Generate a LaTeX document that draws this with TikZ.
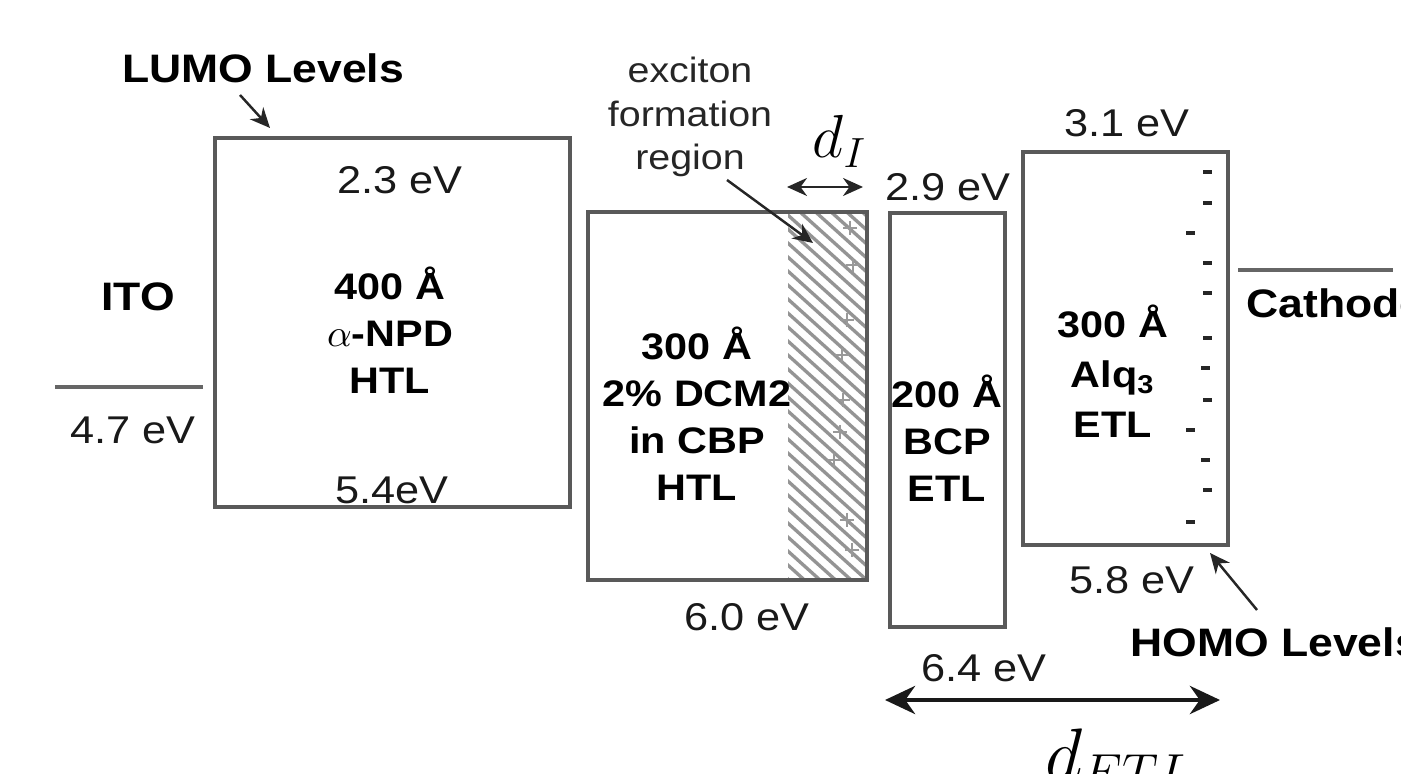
\documentclass[tikz,border=0pt]{standalone}
\usepackage{fontspec}
\setmainfont{Liberation Sans}[FakeStretch=1.12]
\usetikzlibrary{arrows.meta}

\begin{document}
\begin{tikzpicture}[x=0.01cm, y=-0.01cm, >={Stealth[length=2mm, width=1.8mm]},
  layer/.style={draw=black!65, line width=0.9pt},
  electrode/.style={black!60, line width=0.9pt},
  val/.style={font=\fontsize{11}{13}\selectfont, text=black!90},
  lbl/.style={font=\fontsize{11.3}{13}\selectfont\bfseries},
  film/.style={font=\fontsize{10.5}{13.4}\selectfont\bfseries, align=center},
  note/.style={font=\fontsize{10}{12.4}\selectfont, align=center, text=black!85},
  hatch/.style={black!42, line width=0.95pt},
  hole/.style={black!40, line width=0.6pt},
  charge/.style={fill=black!85},
  pointer/.style={->, black!85, line width=0.7pt}]

  \useasboundingbox (0,0) rectangle (1401,774);

  % electrodes
  \draw[electrode] (55,387) -- (203,387);
  \draw[electrode] (1238,270) -- (1393,270);
  \node[lbl] (ito) at (138,297) {ITO};
  \node[val] (ito ev) at (133,430) {4.7 eV};
  \node[lbl, anchor=west] (cathode) at (1234,303) {Cathode};

  % exciton formation zone
  \begin{scope}
    \clip (788,212) rectangle (867,580);
    \foreach \y in {110,124,...,590}
      \draw[hatch] (780,\y) -- ++(100,90);
  \end{scope}
  \foreach \px/\py in {850/228, 853/265, 847/320, 842/355, 843/400,
                       840/432, 834/460, 847/520, 852/550}
    \draw[hole] (\px-7,\py) -- (\px+7,\py) (\px,\py-7) -- (\px,\py+7);

  % organic layers
  \draw[layer] (215,138) rectangle (570,507);
  \draw[layer] (588,212) rectangle (867,580);
  \draw[layer] (890,213) rectangle (1005,627);
  \draw[layer] (1023,152) rectangle (1228,545);

  % electrons in Alq3
  \foreach \px/\py in {1207/172, 1207/203, 1190/233, 1207/263, 1207/293, 1207/338,
                       1205/368, 1207/400, 1190/430, 1205/460, 1207/490, 1190/522}
    \fill[charge] (\px-4.5,\py-2.2) rectangle (\px+4.5,\py+2.2);

  \node[film] (npd) at (390,330) {400 Å\\$\alpha$-NPD\\HTL};
  \node[film] (cbp) at (697,414) {300 Å\\2\% DCM2\\in CBP\\HTL};
  \node[film] (bcp) at (947,438) {200 Å\\BCP\\ETL};
  \node[film, font=\fontsize{10.5}{14.2}\selectfont\bfseries] (alq) at (1113,371)
       {300 Å\\Alq\textsubscript{3}\\ETL};

  % energies
  \node[val] (npd lumo) at (400,180) {2.3 eV};
  \node[val] (npd homo) at (392,490) {5.4eV};
  \node[val] (cbp homo) at (747,617) {6.0 eV};
  \node[val] (bcp lumo) at (948,187) {2.9 eV};
  \node[val] (bcp homo) at (984,668) {6.4 eV};
  \node[val] (alq lumo) at (1127,123) {3.1 eV};
  \node[val] (alq homo) at (1132,580) {5.8 eV};

  % annotations
  \node[lbl] (lumo) at (263,68) {LUMO Levels};
  \node[lbl, anchor=west] (homo) at (1118,642) {HOMO Levels};
  \node[note] (exciton) at (690,117) {exciton\\formation\\region};
  \node[font=\fontsize{17.28}{18}\selectfont, anchor=base west, inner sep=0pt]
       (di) at (812,158) {$d_I$};
  \node[font=\fontsize{20.74}{22}\selectfont, anchor=base west, inner sep=0pt]
       (detl) at (1045,779) {$d_{ETL}$};

  \coordinate (lumo tail) at (240,95);
  \coordinate (lumo tip) at (270,128);
  \coordinate (exc tail) at (727,180);
  \coordinate (exc tip) at (813,243);
  \coordinate (di left) at (787,187);
  \coordinate (di right) at (863,187);
  \coordinate (homo tail) at (1257,610);
  \coordinate (homo tip) at (1210,553);
  \coordinate (etl left) at (885,700);
  \coordinate (etl right) at (1220,700);

  \draw[pointer] (lumo tail) -- (lumo tip);
  \draw[pointer] (exc tail) -- (exc tip);
  \draw[pointer, <->] (di left) -- (di right);
  \draw[pointer] (homo tail) -- (homo tip);
  \draw[<->, black!90, line width=1.4pt, >={Stealth[length=3mm, width=2.8mm]}]
       (etl left) -- (etl right);
\end{tikzpicture}
\end{document}
